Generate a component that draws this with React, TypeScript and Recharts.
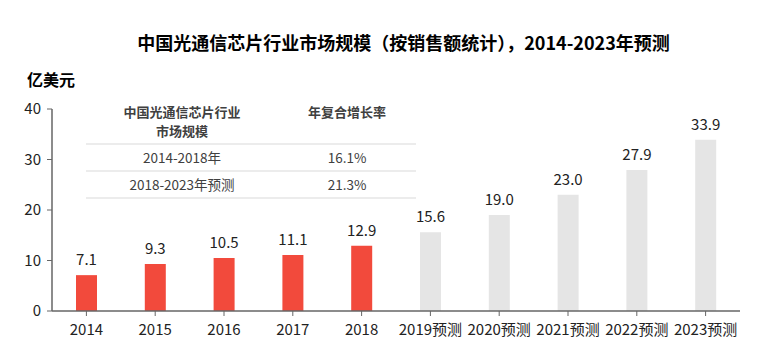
import { BarChart, Bar, XAxis, YAxis, Cell, LabelList } from 'recharts';

const years = ['2014', '2015', '2016', '2017', '2018', '2019预测', '2020预测', '2021预测', '2022预测', '2023预测'];
const market = [7.1, 9.3, 10.5, 11.1, 12.9, 15.6, 19.0, 23.0, 27.9, 33.9];
const yTicks = [0, 10, 20, 30, 40];
const cagrRows = [
  { period: '2014-2018年', rate: '16.1%' },
  { period: '2018-2023年预测', rate: '21.3%' },
];

const FONT = "'Noto Sans CJK SC', 'Noto Sans', sans-serif";
const RED = '#f24a3c';
const GREY = '#e5e5e5';

const data = years.map((y, i) => ({ year: y, value: market[i], actual: !y.includes('预测') }));

export default function App() {
  return (
    <div style={{ position: 'absolute', left: 0, top: 0, width: 757, height: 352, background: '#fff', fontFamily: FONT }}>
      <div style={{ position: 'absolute', left: 0, width: 757, top: 29, textAlign: 'center', fontSize: 18, fontWeight: 700, color: '#000', paddingLeft: 50, boxSizing: 'border-box' }}>
        中国光通信芯片行业市场规模（按销售额统计），2014-2023年预测
      </div>
      <div style={{ position: 'absolute', left: 27, top: 67, fontSize: 16, fontWeight: 700, color: '#000' }}>亿美元</div>

      <BarChart width={757} height={352} data={data} margin={{ top: 109, right: 17, bottom: 11, left: 0 }}>
        <YAxis
          width={52}
          domain={[0, 40]}
          ticks={yTicks}
          tickSize={5}
          tickMargin={6}
          axisLine={{ stroke: '#666', strokeWidth: 1.5 }}
          tickLine={{ stroke: '#666' }}
          tick={{ fontSize: 15, fill: '#222', fontFamily: FONT }}
        />
        <XAxis
          dataKey="year"
          interval={0}
          tickSize={5}
          tickMargin={8}
          axisLine={{ stroke: '#666', strokeWidth: 1.5 }}
          tickLine={{ stroke: '#666' }}
          tick={{ fontSize: 15, fill: '#222', fontFamily: FONT }}
        />
        <Bar dataKey="value" barSize={21} isAnimationActive={false}>
          {data.map((d) => (
            <Cell key={d.year} fill={d.actual ? RED : GREY} />
          ))}
          <LabelList dataKey="value" position="top" offset={10} formatter={(v: number) => v.toFixed(1)} style={{ fontSize: 15, fill: '#222', fontFamily: FONT }} />
        </Bar>
      </BarChart>

      <div style={{ position: 'absolute', left: 86, top: 102, width: 330, fontSize: 13.5, color: '#404040' }}>
        <div style={{ display: 'flex', height: 41, borderBottom: '2px solid #ececec', fontWeight: 700, fontSize: 13 }}>
          <div style={{ width: 192, textAlign: 'center', lineHeight: '19px' }}>
            <div>中国光通信芯片行业</div>
            <div>市场规模</div>
          </div>
          <div style={{ flex: 1, textAlign: 'center', lineHeight: '19px' }}>年复合增长率</div>
        </div>
        {cagrRows.map((r) => (
          <div key={r.period} style={{ display: 'flex', height: 25, lineHeight: '25px', borderBottom: '2px solid #ececec' }}>
            <div style={{ width: 192, textAlign: 'center' }}>{r.period}</div>
            <div style={{ flex: 1, textAlign: 'center' }}>{r.rate}</div>
          </div>
        ))}
      </div>
    </div>
  );
}
